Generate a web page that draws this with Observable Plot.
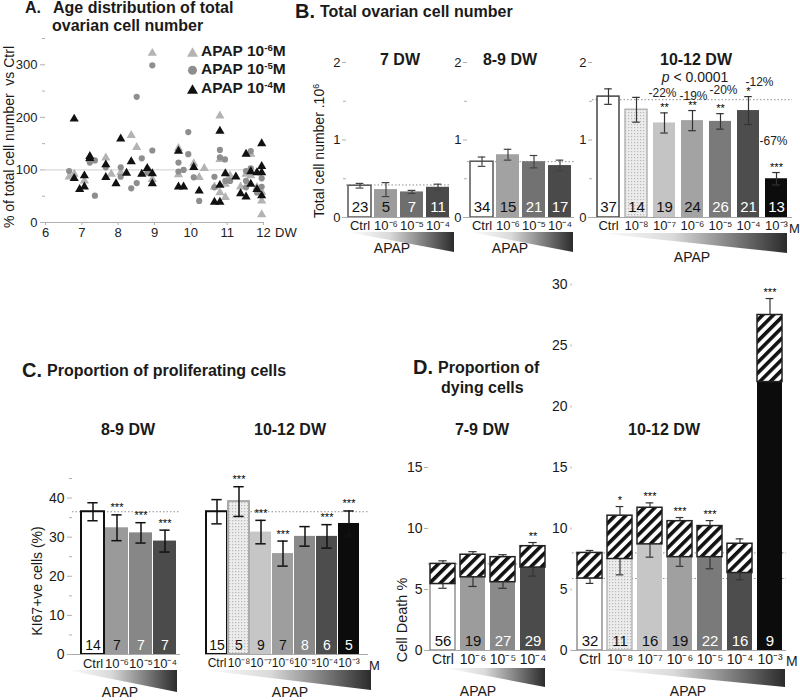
<!DOCTYPE html>
<html><head><meta charset="utf-8">
<script src="https://cdn.jsdelivr.net/npm/d3@7"></script>
<script src="https://cdn.jsdelivr.net/npm/@observablehq/plot@0.6"></script>
<style>
body{margin:0;background:#fff;}
#root{position:relative;width:800px;height:700px;overflow:hidden;background:#fff;font-family:"Liberation Sans",Arial,Helvetica,sans-serif;color:#1a1a1a;}
.t{position:absolute;white-space:nowrap;line-height:1;}
.t sup{font-size:0.62em;vertical-align:0.55em;line-height:0;}
.wedge{position:absolute;clip-path:polygon(0 0,100% 0,100% 100%);background:linear-gradient(to right,#ffffff 0%,#dadada 40%,#2b2b2b 100%);}
</style></head>
<body><div id="root"></div>
<script>
// ---------------- DATA ----------------
// Panel A: % of total cell number vs Ctrl, by age (DW)
const a6x = [6.65,6.79,7.07,7.22,7.66,7.81,8.07,8.36,8.51,8.86,8.94,8.94,9.66,9.66,10.08,10.23,10.37,10.65,10.80,10.80,10.80,10.95,10.95,11.08,11.37,11.52,11.65,11.65,11.82,11.95,11.95,11.95];
const a6y = [87,92,79,120,123,92,95,166,143,98,322,82,141,91,112,86,103,68,203,120,57,48,73,89,68,92,130,89,67,41,15,58];
const a5x = [6.65,7.22,7.36,7.36,7.66,8.07,8.07,8.36,8.51,8.51,8.65,8.80,8.94,8.94,9.66,9.66,9.80,9.93,9.93,10.08,10.23,10.65,10.65,10.80,10.80,10.94,10.95,11.08,11.52,11.52,11.52,11.65,11.65,11.82,11.95,11.95];
const a5y = [98,114,118,51,105,105,87,65,239,75,122,95,299,137,114,97,100,172,130,86,41,87,67,138,124,120,79,79,79,67,98,136,103,57,84,68];
const a4x = [6.79,6.79,6.94,7.07,7.07,7.22,7.22,7.66,7.66,7.94,8.07,8.23,8.36,8.65,8.80,8.94,8.94,9.66,9.66,9.80,10.08,10.23,10.65,10.80,10.80,10.80,10.95,11.24,11.37,11.52,11.52,11.65,11.65,11.82,11.82,11.95,11.95,11.95,11.95];
const a4y = [197,84,63,89,68,126,122,110,86,74,159,94,116,92,103,93,74,136,68,68,105,60,39,174,71,39,93,87,55,130,49,97,73,95,63,150,107,95,51];
const aXTicks = [6,7,8,9,10,11,12];
const aYTicks = [0,100,200,300];

// Panel B: total ovarian cell number (x10^6)
const cats4 = ["Ctrl","10⁻⁶","10⁻⁵","10⁻⁴"];
const cats7 = ["Ctrl","10⁻⁸","10⁻⁷","10⁻⁶","10⁻⁵","10⁻⁴","10⁻³"];
const b7Mean = [0.41,0.36,0.33,0.39];
const b7Sem  = [0.03,0.09,0.02,0.04];
const b7N    = [23,5,7,11];
const b7Ctrl = [0.42];
const b89Mean = [0.72,0.81,0.72,0.67];
const b89Sem  = [0.06,0.07,0.08,0.07];
const b89N    = [34,15,21,17];
const b89Ctrl = [0.72];
const b1012Mean  = [1.56,1.39,1.22,1.25,1.24,1.38,0.50];
const b1012Sem   = [0.10,0.16,0.13,0.13,0.10,0.18,0.08];
const b1012N     = [37,14,19,24,26,21,13];
const b1012Stars = ["","","**","**","**","*","***"];
const b1012Pct   = ["","","-22%","-19%","-20%","-12%","-67%"];
const b1012PctY  = [null,null,1.60,1.57,1.64,1.74,0.99];
const b1012Ctrl  = [1.52];

// Panel C: KI67+ve cells (%)
const c89Mean  = [36.5,32.4,31.1,29.0];
const c89Sem   = [2.3,3.3,2.6,2.8];
const c89N     = [14,7,7,7];
const c89Stars = ["","***","***","***"];
const c89Ctrl  = [36.5];
const c1012Mean  = [36.5,39.1,31.3,25.8,30.2,30.2,33.5];
const c1012Sem   = [3.1,3.8,3.0,3.2,2.5,3.0,3.2];
const c1012N     = [15,5,9,7,8,6,5];
const c1012Stars = ["","***","***","***","","***","***"];
const c1012Ctrl  = [36.5];

// Panel D: cell death % (solid lower part + hatched upper part)
const d79Lower    = [5.45,6.0,5.6,6.8];
const d79LowerSem = [0.35,0.75,0.5,0.7];
const d79Total    = [7.1,7.85,7.65,8.55];
const d79TotalSem = [0.25,0.25,0.2,0.3];
const d79N        = [56,19,27,29];
const d79Stars    = ["","","","**"];
const d79Ctrl     = [7.1];
const d1012Lower    = [5.9,7.5,8.7,7.65,7.65,6.35,22.0];
const d1012LowerSem = [0.4,1.3,1.05,0.75,0.95,0.55,0];
const d1012Total    = [8.0,11.05,11.7,10.6,10.2,8.75,27.5];
const d1012TotalSem = [0.2,0.75,0.4,0.3,0.45,0.4,1.35];
const d1012N        = [32,11,16,19,22,16,9];
const d1012Stars    = ["","*","***","***","***","","***"];
const d1012Ctrl     = [8.0,5.9];

// ---------------- STYLES ----------------
const FONT = '"Liberation Sans", Arial, Helvetica, sans-serif';
const root = document.getElementById("root");
const W = "#ffffff", K = "#111111";
const intFmt = d3.format("d");
const pctDx = [0, 0, -2, 1, 3, 11, -3];

function place(el, left, top) {
  el.style.position = "absolute";
  el.style.left = left + "px";
  el.style.top = top + "px";
  root.appendChild(el);
}
function txt(html, x, y, o = {}) {
  const {size = 14, weight = "normal", anchor = "middle", rotate = 0, color = "#1a1a1a"} = o;
  const d = document.createElement("div");
  d.className = "t";
  d.innerHTML = html;
  const tx = anchor === "middle" ? "-50%" : anchor === "end" ? "-100%" : "0";
  d.style.cssText = `left:${x}px;top:${y}px;font-size:${size}px;font-weight:${weight};color:${color};transform:translate(${tx},-50%) rotate(${rotate}deg);`;
  root.appendChild(d);
}
function wedge(x, y, w, h) {
  const d = document.createElement("div");
  d.className = "wedge";
  d.style.cssText = `left:${x}px;top:${y}px;width:${w}px;height:${h}px;`;
  root.appendChild(d);
}
function defsMark() {
  return () => {
    const defs = d3.create("svg:defs");
    const h = defs.append("pattern").attr("id", "hatch").attr("patternUnits", "userSpaceOnUse")
      .attr("width", 7.5).attr("height", 7.5).attr("patternTransform", "rotate(45)");
    h.append("rect").attr("width", 7.5).attr("height", 7.5).attr("fill", "#fff");
    h.append("rect").attr("width", 3.6).attr("height", 7.5).attr("fill", "#111");
    const p = defs.append("pattern").attr("id", "dots").attr("patternUnits", "userSpaceOnUse")
      .attr("width", 3).attr("height", 3);
    p.append("rect").attr("width", 3).attr("height", 3).attr("fill", "#ececec");
    p.append("rect").attr("width", 1.2).attr("height", 1.2).attr("fill", "#b8b8b8");
    return defs.node();
  };
}

// ---------------- PANEL A ----------------
const plotA = Plot.plot({
  width: 290, height: 220, marginLeft: 45, marginRight: 27, marginTop: 8, marginBottom: 28,
  x: {domain: [6, 12]},
  y: {domain: [0, 350]},
  style: {fontFamily: FONT, fontSize: "13px", color: "#222", background: "transparent", overflow: "visible"},
  marks: [
    Plot.ruleY([100], {stroke: "#cfcfcf"}),
    Plot.ruleY([0], {stroke: "#b0b0b0"}),
    Plot.axisY({ticks: aYTicks, tickFormat: intFmt, tickSize: 5, tickPadding: 3, line: true, stroke: "#b0b0b0", label: null, fontSize: 13}),
    Plot.axisY({ticks: [50,150,250,350], tickSize: 3, tickFormat: () => "", stroke: "#b0b0b0", label: null}),
    Plot.axisX({ticks: aXTicks, tickFormat: intFmt, tickSize: 3, tickPadding: 2, stroke: "#b0b0b0", label: null, fontSize: 13}),
    Plot.dot(a6x.map((x, i) => ({x, y: a6y[i]})), {x: "x", y: "y", symbol: "triangle", r: 3.4, fill: "#b3b3b3"}),
    Plot.dot(a5x.map((x, i) => ({x, y: a5y[i]})), {x: "x", y: "y", symbol: "circle", r: 3.1, fill: "#8e8e8e"}),
    Plot.dot(a4x.map((x, i) => ({x, y: a4y[i]})), {x: "x", y: "y", symbol: "triangle", r: 3.4, fill: "#111"})
  ]
});
place(plotA, 0, 30);

// ---------------- BAR PANELS ----------------
function barPanel(c) {
  const k = c.cats.length;
  const frameW = c.width - c.ml - c.mr;
  const step = (frameW - (c.insetL || 0) - (c.insetR || 0)) / (k - c.padIn + 2 * c.padOut);
  const bw = step * (1 - c.padIn);
  const capInset = Math.max(0, (bw - (c.capW || 8)) / 2);
  const rows = c.cats.map((cat, i) => ({
    cat, mean: c.mean[i], sem: c.sem[i], n: c.n[i], star: (c.stars || [])[i] || "",
    fill: c.fills[i], stroke: c.strokes[i], tf: c.textFills[i],
    lower: c.lower ? c.lower[i] : null, lsem: c.lowerSem ? c.lowerSem[i] : 0,
    pct: c.pct ? c.pct[i] : "", pctY: c.pctY ? c.pctY[i] : null, pdx: c.pctDx ? c.pctDx[i] : 0
  }));
  const ec = {stroke: c.errColor || "#333", strokeWidth: c.errWidth || 1.2};
  const cap = {...ec, insetLeft: capInset, insetRight: capInset};
  const marks = [defsMark()];
  marks.push(Plot.ruleY(c.refLines, {stroke: "#8f8f8f", strokeDasharray: "1.5,2", strokeWidth: 1}));
  if (c.lower) {
    marks.push(Plot.barY(rows, {x: "cat", y1: () => 0, y2: "lower", fill: "fill", stroke: "stroke", strokeWidth: c.barStrokeW || 1}));
    marks.push(Plot.barY(rows, {x: "cat", y1: "lower", y2: "mean", fill: "url(#hatch)", stroke: "#222", strokeWidth: 1.5}));
    const lr = rows.filter(d => d.lsem > 0);
    marks.push(Plot.ruleX(lr, {x: "cat", y1: d => d.lower - d.lsem, y2: "lower", ...ec}));
    marks.push(Plot.tickY(lr, {x: "cat", y: d => d.lower - d.lsem, ...cap}));
    marks.push(Plot.ruleX(rows, {x: "cat", y1: "mean", y2: d => d.mean + d.sem, ...ec}));
    marks.push(Plot.tickY(rows, {x: "cat", y: d => d.mean + d.sem, ...cap}));
  } else {
    marks.push(Plot.barY(rows, {x: "cat", y1: () => 0, y2: "mean", fill: "fill", stroke: "stroke", strokeWidth: c.barStrokeW || 1}));
    marks.push(Plot.ruleX(rows, {x: "cat", y1: d => d.mean - d.sem, y2: d => d.mean + d.sem, ...ec}));
    marks.push(Plot.tickY(rows, {x: "cat", y: d => d.mean - d.sem, ...cap}));
    marks.push(Plot.tickY(rows, {x: "cat", y: d => d.mean + d.sem, ...cap}));
  }
  marks.push(Plot.text(rows, {x: "cat", y: () => 0, text: d => String(d.n), fill: "tf", dy: c.nDy || -10, fontSize: c.nSize || 15}));
  marks.push(Plot.text(rows.filter(d => d.star), {x: "cat", y: d => d.mean + d.sem, text: "star", dy: c.starDy || -5, fontSize: 11, fill: "#000"}));
  if (c.pct) {
    for (const d of rows.filter(d => d.pct)) {
      marks.push(Plot.text([d], {x: "cat", y: "pctY", text: "pct", dx: d.pdx, fontSize: 12, fill: "#222"}));
    }
  }
  marks.push(Plot.ruleY([0], {stroke: "#a8a8a8"}));
  if (c.showY !== false) {
    marks.push(Plot.axisY({ticks: c.yTicks, tickFormat: intFmt, tickSize: c.tickSize || 4, tickPadding: c.tickPad || 2, line: true, stroke: c.axisColor || "#b0b0b0", strokeWidth: c.axisWidth || 1, label: null, fontSize: c.ySize || 13}));
    if (c.yMinor) marks.push(Plot.axisY({ticks: c.yMinor, tickSize: 3, tickFormat: () => "", stroke: c.axisColor || "#b0b0b0", label: null}));
  }
  marks.push(Plot.axisX({tickSize: 0, tickPadding: c.xPad || 3, label: null, fontSize: c.xSize || 13}));
  const p = Plot.plot({
    width: c.width, height: c.height, marginLeft: c.ml, marginRight: c.mr, marginTop: c.mt, marginBottom: c.mb,
    x: {domain: c.cats, paddingInner: c.padIn, paddingOuter: c.padOut, insetLeft: c.insetL || 0, insetRight: c.insetR || 0},
    y: {domain: c.yDomain, axis: c.showY === false ? null : undefined},
    color: {type: "identity"},
    style: {fontFamily: FONT, fontSize: "13px", color: "#1a1a1a", background: "transparent", overflow: "visible"},
    marks
  });
  place(p, c.left, c.top);
  return p;
}

const txt4 = [K, K, W, W];
const txt7 = [K, K, K, K, W, W, W];

// B: 7 DW
barPanel({left: 300, top: 40, width: 160, height: 200, ml: 46, mr: 10, mt: 22, mb: 23,
  cats: cats4, mean: b7Mean, sem: b7Sem, n: b7N, refLines: b7Ctrl,
  fills: ["#ffffff","#9c9c9c","#6e6e6e","#4a4a4a"], strokes: ["#555","none","none","none"], barStrokeW: 1.5, textFills: txt4,
  yDomain: [0, 2], yTicks: [0, 1, 2], yMinor: [0.5, 1.5], padIn: 0.12, padOut: 0.03, errColor: "#444"});
// B: 8-9 DW
barPanel({left: 440, top: 40, width: 140, height: 200, ml: 27, mr: 6, mt: 22, mb: 23,
  cats: cats4, mean: b89Mean, sem: b89Sem, n: b89N, refLines: b89Ctrl,
  fills: ["#ffffff","#a2a2a2","#727272","#4a4a4a"], strokes: ["#555","none","none","none"], barStrokeW: 1.5, textFills: txt4,
  yDomain: [0, 2], yTicks: [0, 1, 2], yMinor: [0.5, 1.5], padIn: 0.13, padOut: 0.05, errColor: "#444"});
// B: 10-12 DW
barPanel({left: 565, top: 40, width: 235, height: 200, ml: 27, mr: 8, mt: 22, mb: 23,
  cats: cats7, mean: b1012Mean, sem: b1012Sem, n: b1012N, stars: b1012Stars, pct: b1012Pct, pctY: b1012PctY, pctDx, refLines: b1012Ctrl,
  fills: ["#ffffff","url(#dots)","#c4c4c4","#a3a3a3","#7a7a7a","#4d4d4d","#0c0c0c"],
  strokes: ["#444","#b5b5b5","none","none","none","none","none"], barStrokeW: 1.5, textFills: txt7,
  yDomain: [0, 2], yTicks: [0, 1, 2], yMinor: [0.5, 1.5], padIn: 0.22, padOut: 0.08, errColor: "#333", starDy: -5});

// C: 8-9 DW
barPanel({left: 40, top: 460, width: 150, height: 220, ml: 32, mr: 10, mt: 18, mb: 26,
  cats: cats4, mean: c89Mean, sem: c89Sem, n: c89N, stars: c89Stars, refLines: c89Ctrl,
  fills: ["#ffffff","#9a9a9a","#878787","#4b4b4b"], strokes: ["#111","none","none","none"], barStrokeW: 2, textFills: txt4,
  yDomain: [0, 45], yTicks: [0, 10, 20, 30, 40], yMinor: [5, 15, 25, 35, 45], tickSize: 5, tickPad: 3, ySize: 14,
  padIn: 0.04, padOut: 0.02, insetL: 7, insetR: 2, capW: 11, errColor: "#111", errWidth: 1.5, nSize: 14, nDy: -9, starDy: -7, xPad: 4});
// C: 10-12 DW
barPanel({left: 190, top: 460, width: 190, height: 220, ml: 15, mr: 12, mt: 18, mb: 26, showY: false,
  cats: cats7, mean: c1012Mean, sem: c1012Sem, n: c1012N, stars: c1012Stars, refLines: c1012Ctrl,
  fills: ["#ffffff","url(#dots)","#c6c6c6","#9e9e9e","#8a8a8a","#4d4d4d","#0c0c0c"],
  strokes: ["#111","#aaaaaa","none","none","none","none","none"], barStrokeW: 2, textFills: txt7,
  yDomain: [0, 45], padIn: 0.03, padOut: 0.01, insetR: 7, capW: 11, errColor: "#111", errWidth: 1.5,
  nSize: 14, nDy: -9, starDy: -7, xSize: 12, xPad: 4});

// D: 7-9 DW
barPanel({left: 390, top: 440, width: 165, height: 235, ml: 38, mr: 9, mt: 27, mb: 25,
  cats: cats4, mean: d79Total, sem: d79TotalSem, lower: d79Lower, lowerSem: d79LowerSem, n: d79N, stars: d79Stars, refLines: d79Ctrl,
  fills: ["#ffffff","#9c9c9c","#8a8a8a","#4b4b4b"], strokes: ["#777","none","none","none"], barStrokeW: 1.2, textFills: txt4,
  yDomain: [0, 15], yTicks: [0, 5, 10, 15], padIn: 0.18, padOut: 0.05, errColor: "#333", nSize: 15, nDy: -9, starDy: -6, ySize: 14, xSize: 14, xPad: 4});
// D: 10-12 DW
barPanel({left: 540, top: 270, width: 255, height: 405, ml: 32, mr: 9, mt: 14, mb: 25,
  cats: cats7, mean: d1012Total, sem: d1012TotalSem, lower: d1012Lower, lowerSem: d1012LowerSem, n: d1012N, stars: d1012Stars, refLines: d1012Ctrl,
  fills: ["#ffffff","url(#dots)","#c6c6c6","#a0a0a0","#7a7a7a","#4d4d4d","#0c0c0c"],
  strokes: ["#777","#aaaaaa","none","none","none","none","none"], barStrokeW: 1.2, textFills: txt7,
  yDomain: [0, 30], yTicks: [0, 5, 10, 15, 20, 25, 30], padIn: 0.18, padOut: 0.05, errColor: "#333",
  tickSize: 2, tickPad: 3, axisColor: "#d4d4d4", axisWidth: 2, nSize: 15, nDy: -9, starDy: -6, ySize: 14, xSize: 14, xPad: 4});

// ---------------- TEXT / DECORATION ----------------
// Panel A
txt("A.", 25, 8, {size: 16, weight: "bold", anchor: "start"});
txt("Age distribution of total", 53, 8, {size: 16, weight: "bold", anchor: "start"});
txt("ovarian cell number", 52, 26, {size: 16, weight: "bold", anchor: "start"});
txt("% of total cell number &nbsp;vs Ctrl", 9, 137, {size: 14, rotate: -90});
txt("DW", 275, 232, {size: 13, anchor: "start"});
const legendItems = [
  {sym: "tri", color: "#b3b3b3", label: "APAP 10<sup>-6</sup>M", y: 51},
  {sym: "circ", color: "#8e8e8e", label: "APAP 10<sup>-5</sup>M", y: 69},
  {sym: "tri", color: "#111", label: "APAP 10<sup>-4</sup>M", y: 88}
];
for (const it of legendItems) {
  const shape = it.sym === "tri"
    ? `<svg width="11" height="10" style="vertical-align:-1px;margin-right:3px"><polygon points="5.5,0 11,9.5 0,9.5" fill="${it.color}"/></svg>`
    : `<svg width="11" height="10" style="vertical-align:-1px;margin-right:3px"><circle cx="5.5" cy="5" r="4.5" fill="${it.color}"/></svg>`;
  txt(shape + it.label, 187, it.y, {size: 15.5, weight: "bold", anchor: "start"});
}

// Panel B
txt("B.", 295, 11, {size: 20, weight: "bold", anchor: "start"});
txt("Total ovarian cell number", 320, 12, {size: 16, weight: "bold", anchor: "start"});
txt("7 DW", 400, 60, {size: 16, weight: "bold"});
txt("8-9 DW", 510, 60, {size: 16, weight: "bold"});
txt("10-12 DW", 696, 60, {size: 16, weight: "bold"});
txt("<i>p</i> &lt; 0.0001", 695, 77, {size: 14});
txt("Total cell number .10<sup>6</sup>", 319, 151, {size: 14, rotate: -90});
txt("M", 789, 228, {size: 13, anchor: "start"});
wedge(347, 232, 107, 20); wedge(470, 232, 103, 20); wedge(597, 233, 190, 20);
txt("APAP", 392, 248, {size: 14}); txt("APAP", 510, 248, {size: 14}); txt("APAP", 692, 257, {size: 14});

// Panel C
txt("C.", 22, 370, {size: 20, weight: "bold", anchor: "start"});
txt("Proportion of proliferating cells", 47, 371, {size: 16, weight: "bold", anchor: "start"});
txt("8-9 DW", 128, 430, {size: 16, weight: "bold"});
txt("10-12 DW", 290, 430, {size: 16, weight: "bold"});
txt("KI67+ve cells (%)", 37, 581, {size: 14, rotate: -90});
txt("M", 369, 665, {size: 13, anchor: "start"});
wedge(67, 670, 110, 22); wedge(203, 670, 168, 20);
txt("APAP", 120, 692, {size: 14}); txt("APAP", 290, 692, {size: 14});

// Panel D
txt("D.", 413, 367, {size: 20, weight: "bold", anchor: "start"});
txt("Proportion of", 438, 368, {size: 16, weight: "bold", anchor: "start"});
txt("dying cells", 441, 388, {size: 16, weight: "bold", anchor: "start"});
txt("7-9 DW", 482, 430, {size: 16, weight: "bold"});
txt("10-12 DW", 664, 430, {size: 16, weight: "bold"});
txt("Cell Death %", 402, 620, {size: 14.5, rotate: -90});
txt("M", 786, 661, {size: 14, anchor: "start"});
wedge(445, 668, 100, 19); wedge(600, 669, 185, 18);
txt("APAP", 478, 691, {size: 14}); txt("APAP", 688, 691, {size: 14});
</script></body></html>
